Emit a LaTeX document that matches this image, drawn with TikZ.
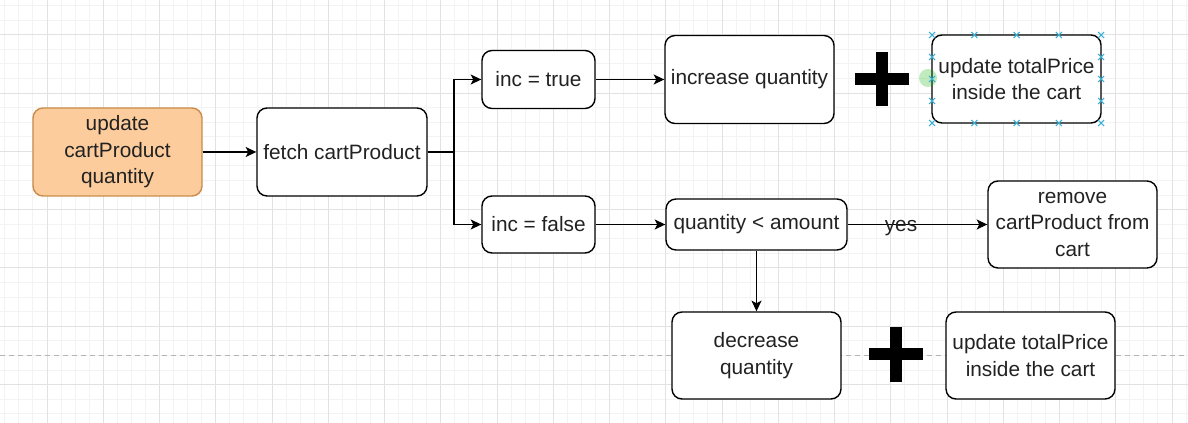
\documentclass[tikz,border=0pt]{standalone}
\usepackage{fontspec}
\setmainfont{Liberation Sans}
\usetikzlibrary{arrows.meta}
\definecolor{orfill}{HTML}{FCCC9C}
\definecolor{ordraw}{HTML}{C98C4A}
\definecolor{txt}{HTML}{222222}
\definecolor{gmaj}{HTML}{E2E2E2}
\definecolor{gmin}{HTML}{F3F3F3}
\definecolor{hdl}{HTML}{3AAFD6}
\definecolor{sep}{HTML}{B4B4B4}
\begin{document}
\begin{tikzpicture}[x=0.75pt,y=-0.75pt,
  sz/.style 2 args={minimum width=#1*0.75pt, minimum height=#2*0.75pt},
  box/.style={draw=black, line width=1.05pt, rounded corners=7.5pt, fill=white, align=center,
    inner sep=0pt, text=txt, font=\fontsize{15.6pt}{19.8pt}\selectfont},
  arr/.style={draw=black, line width=1pt, -{Stealth[length=8pt,width=7.5pt,inset=2pt]}},
  con/.style={draw=black, line width=1pt},
  lbl/.style={text=txt, inner sep=0pt, font=\fontsize{15.6pt}{19.8pt}\selectfont},
  plus/.style={fill=black},
  handle/.style={draw=hdl, line width=0.8pt}]
\useasboundingbox (0,0) rectangle (1188,423);
\fill[white] (0,0) rectangle (1188,423);
% grid
\foreach \i in {0,...,86} {\draw[gmin, line width=0.75pt] ({-9.25+\i*14.0625},0) -- ({-9.25+\i*14.0625},423);}
\foreach \i in {0,...,31} {\draw[gmin, line width=0.75pt] (0,{-23.5+\i*14.575}) -- (1188,{-23.5+\i*14.575});}
\foreach \i in {0,...,22} {\draw[gmaj, line width=0.75pt] ({-9.25+\i*56.25},0) -- ({-9.25+\i*56.25},423);}
\foreach \i in {0,...,8} {\draw[gmaj, line width=0.75pt] (0,{-23.5+\i*58.3}) -- (1188,{-23.5+\i*58.3});}
% page separator
\draw[sep, line width=0.75pt, dash pattern=on 3.75pt off 3pt] (0,356) -- (1188,356);
% nodes
\node[box, fill=orfill, draw=ordraw, sz={169}{88}] (A) at (117.5,152) {update\\cartProduct\\quantity};
\node[box, sz={170}{88}] (B) at (342,152) {fetch cartProduct};
\node[box, sz={113}{58}] (C) at (538.5,79.5) {inc = true};
\node[box, sz={113}{57}] (D) at (538.5,224.5) {inc = false};
\node[box, sz={169}{88}] (E) at (749.5,79.5) {increase quantity};
\node[box, sz={169}{88}] (F) at (1016.5,79) {update totalPrice\\inside the cart};
\node[box, sz={181}{51}] (G) at (756.5,224.5) {quantity < amount};
\node[box, sz={169}{87}] (H) at (1072.5,224.5) {remove\\cartProduct from\\cart};
\node[box, sz={169}{87}] (I) at (756.5,355.5) {decrease\\quantity};
\node[box, sz={169}{87}] (J) at (1030.5,355.5) {update totalPrice\\inside the cart};
% connectors
\coordinate (j) at (454,152);
\draw[arr] (A) -- (B);
\draw[con] (B.east) -- (j);
\draw[arr] (j) |- (C.west);
\draw[arr] (j) |- (D.west);
\draw[arr] (C) -- (E);
\draw[arr] (D) -- (G);
\draw[arr] (G) -- (H);
\node[lbl] (yes) at (901,228) {yes};
\draw[arr] (G) -- (I);
% plus signs
\fill[plus] (855,73) rectangle (909,85);
\fill[plus] (876,52) rectangle (888,106);
\fill[plus] (869,348.5) rectangle (923,360.5);
\fill[plus] (890,327) rectangle (902,382);
% selection marks
\fill[green!70!black, opacity=0.25] (928,78) circle (9);
\foreach \x in {932,974.25,1016.5,1058.75,1101} {
  \foreach \y in {35,123} {
    \draw[handle] ({\x-3},{\y-3}) -- ({\x+3},{\y+3});
    \draw[handle] ({\x-3},{\y+3}) -- ({\x+3},{\y-3});
  }
}
\foreach \x in {932,1101} {
  \foreach \y in {57,79,101} {
    \draw[handle] ({\x-3},{\y-3}) -- ({\x+3},{\y+3});
    \draw[handle] ({\x-3},{\y+3}) -- ({\x+3},{\y-3});
  }
}
\end{tikzpicture}
\end{document}
